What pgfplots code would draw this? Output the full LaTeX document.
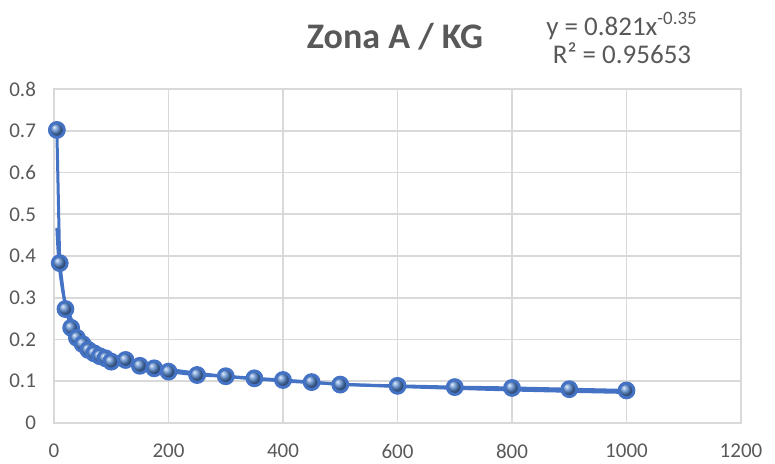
\documentclass[border=0pt]{standalone}
\usepackage{pgfplots}
\pgfplotsset{compat=1.18}
\usepackage{fontspec}
\setmainfont{Carlito}
\definecolor{xlblue}{RGB}{68,114,196}
\definecolor{xlball}{RGB}{84,134,204}
\definecolor{xlgrid}{RGB}{217,217,217}
\definecolor{xltext}{RGB}{89,89,89}

\begin{document}
\begin{tikzpicture}
\useasboundingbox (-27pt,-20pt) rectangle (360.5pt,211.5pt);
\begin{axis}[
  scale only axis, width=343.5pt, height=167pt,
  xmin=0, xmax=1200, ymin=0, ymax=0.8,
  xtick={0,200,...,1200}, ytick={0,0.1,...,0.8},
  grid=major, grid style={xlgrid, line width=0.8pt},
  axis line style={xlgrid, line width=0.8pt},
  major tick length=0pt,
  tick label style={font=\fontsize{10.5}{12}\selectfont, text=xltext},
  /pgf/number format/assume math mode=true,
  yticklabel style={/pgf/number format/fixed, /pgf/number format/precision=1, xshift=-5.5pt},
  xticklabel style={/pgf/number format/1000 sep={}, yshift=-7pt},
  every axis plot/.append style={line width=1.5pt},
  clip=false,
]
% power trendline (y = 0.821 x^-0.35)
\addplot[xlblue, smooth] coordinates {
  (5,0.4675)(7,0.4155)(10,0.3667)(15,0.3182)(20,0.2877)(30,0.2497)
  (40,0.2257)(50,0.2088)(70,0.1856)(100,0.1638)(150,0.1421)(200,0.1285)
  (300,0.1115)(400,0.1008)(500,0.0933)(600,0.0875)(800,0.0791)(1000,0.0732)
};
% measured data
\addplot[xlblue, mark=ball, mark size=3.7pt,
  mark options={ball color=xlball}] coordinates {
  (5,0.702)(10,0.383)(20,0.273)(30,0.228)(40,0.204)(50,0.189)(60,0.175)
  (70,0.167)(80,0.160)(90,0.155)(100,0.147)(125,0.151)(150,0.137)
  (175,0.131)(200,0.123)(250,0.115)(300,0.112)(350,0.107)(400,0.103)
  (450,0.098)(500,0.092)(600,0.089)(700,0.086)(800,0.084)(900,0.081)
  (1000,0.078)
};
\end{axis}
\node[font=\fontsize{18}{21}\selectfont\bfseries, text=xltext] at (170.5pt,193pt) {Zona A / KG};
\node[font=\fontsize{13.5}{14}\selectfont, text=xltext, align=center] at (284pt,192.5pt)
  {y = 0.821x\textsuperscript{-0.35}\\R² = 0.95653};
\end{tikzpicture}
\end{document}
